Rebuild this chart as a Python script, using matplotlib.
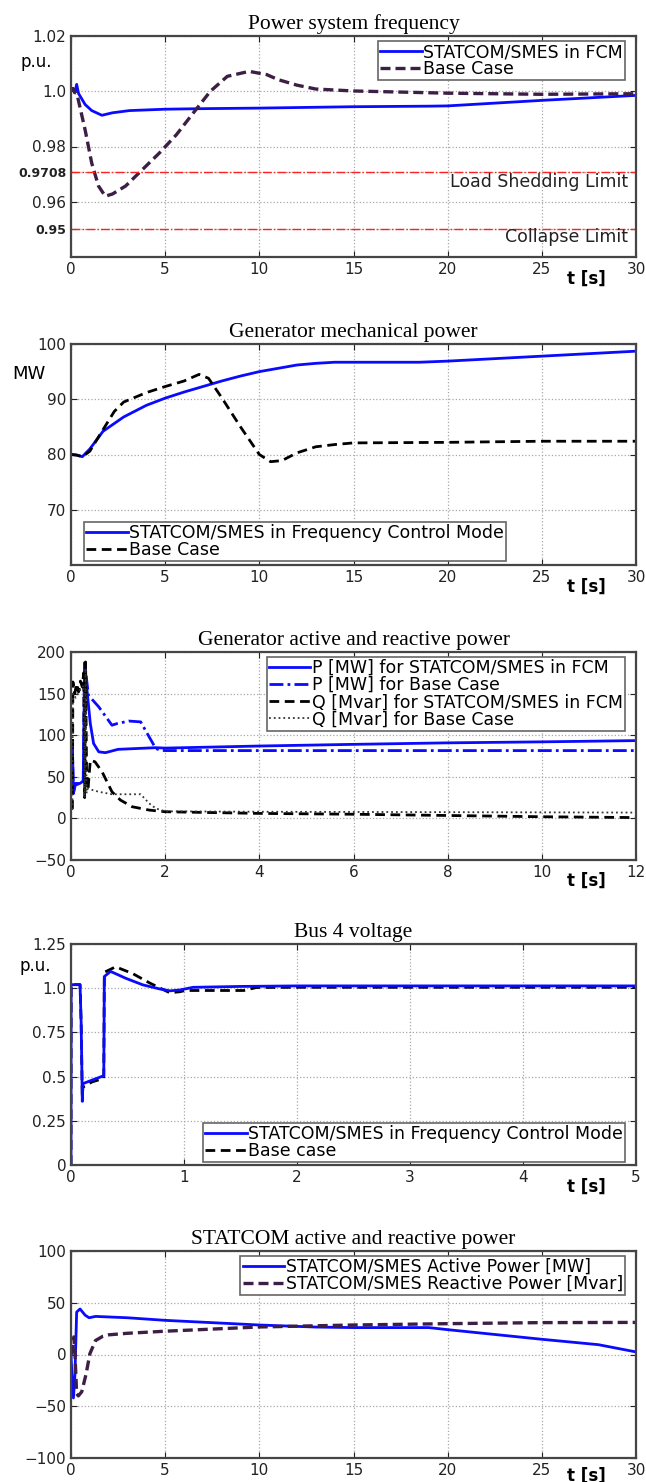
import numpy as np
import matplotlib
matplotlib.use("Agg")
import matplotlib.pyplot as plt

# --- Power system frequency ---
t_freq_fcm = [0, 0.1, 0.2, 0.3, 0.4, 0.75, 1.1, 1.64, 2.2, 3.1, 5, 7, 10, 15, 19, 20, 25, 30]
f_fcm = [1.0, 1.001, 0.9995, 1.0025, 0.9992, 0.9952, 0.993, 0.9913, 0.9922, 0.993, 0.9935, 0.9937,
         0.9939, 0.9944, 0.9946, 0.9947, 0.9967, 0.9985]
t_freq_base = [0, 0.1, 0.2, 0.3, 0.75, 1.1, 1.46, 1.82, 2.2, 2.9, 3.8, 4.7, 5.6, 6.5, 7.4, 8.3,
               9.46, 10.4, 11, 12, 13, 15, 20, 25, 30]
f_base = [1.0, 1.001, 0.9995, 0.9995, 0.986, 0.974, 0.9657, 0.962, 0.9628, 0.9657, 0.9717, 0.9777,
          0.9843, 0.9922, 1.0, 1.0054, 1.0072, 1.006, 1.0042, 1.0022, 1.0008, 1.0001, 0.9993,
          0.9989, 0.9991]
load_shed_limit = 0.9708
collapse_limit = 0.95

# --- Generator mechanical power ---
t_pm_fcm = [0, 0.3, 0.6, 1.0, 1.7, 2.8, 4, 5, 6, 7, 8, 9, 10, 11, 12, 13, 14, 15, 18.5, 20, 25, 30]
pm_fcm = [80, 79.9, 79.6, 81, 84.2, 86.8, 88.9, 90.2, 91.3, 92.3, 93.3, 94.2, 95.0, 95.6, 96.2,
          96.5, 96.7, 96.7, 96.7, 96.9, 97.8, 98.7]
t_pm_base = [0, 0.3, 0.6, 1.0, 1.7, 2.3, 2.8, 4, 5, 6, 6.8, 7.3, 8, 9, 10, 10.6, 11.2, 12, 13, 14,
             15, 20, 25, 30]
pm_base = [80, 79.9, 79.6, 80.6, 84.5, 87.8, 89.5, 91.2, 92.3, 93.3, 94.5, 93.8, 90.3, 85.0, 80.0,
           78.7, 78.9, 80.3, 81.4, 81.8, 82.1, 82.2, 82.4, 82.4]

# --- Generator active and reactive power ---
t_p_fcm = [0, 0.03, 0.05, 0.09, 0.19, 0.26, 0.29, 0.34, 0.41, 0.48, 0.59, 0.73, 1.0, 1.8, 2, 4, 6,
           8, 10, 12]
p_fcm = [85, 88, 30, 42, 42, 45, 187, 154, 114, 90, 80, 79, 83, 85, 84.5, 87, 89, 90.8, 92, 93.5]
t_p_base = [0, 0.03, 0.05, 0.09, 0.19, 0.26, 0.29, 0.37, 0.59, 0.87, 0.98, 1.23, 1.48, 1.66, 1.8,
            1.9, 2, 4, 8, 12]
p_base = [85, 88, 30, 40, 42, 45, 187, 148, 134, 112, 114, 117, 116, 98, 84, 82, 81.5, 81.5, 81.5,
          81.5]
t_q_fcm = [0, 0.03, 0.04, 0.08, 0.12, 0.16, 0.2, 0.24, 0.27, 0.29, 0.31, 0.33, 0.36, 0.41, 0.51,
           0.66, 0.87, 1.05, 1.3, 1.66, 2.0, 4, 6, 8, 10, 12]
q_fcm = [12, 12, 164, 150, 162, 152, 165, 158, 175, 25, 188, 60, 34, 70, 68, 56, 32, 22, 14, 10, 8,
         6, 5, 3.5, 2, 1]
t_q_base = [0, 0.03, 0.04, 0.1, 0.2, 0.27, 0.29, 0.31, 0.33, 0.34, 0.59, 0.87, 1.48, 1.66, 1.8, 2.0,
            4, 8, 12]
q_base = [12, 12, 150, 145, 155, 160, 25, 180, 30, 36, 32, 29, 29, 18, 12, 8.5, 8, 7.5, 7]

# --- Bus 4 voltage ---
t_v_fcm = [0, 0.001, 0.08, 0.09, 0.1, 0.105, 0.186, 0.29, 0.295, 0.35, 0.485, 0.635, 0.784, 0.874,
           0.964, 1.08, 1.5, 2, 3, 4, 5]
v_fcm = [0, 1.02, 1.02, 0.8, 0.36, 0.46, 0.48, 0.505, 1.066, 1.095, 1.056, 1.019, 0.996, 0.985,
         0.99, 1.005, 1.01, 1.013, 1.013, 1.013, 1.013]
t_v_base = [0, 0.001, 0.08, 0.09, 0.1, 0.105, 0.186, 0.29, 0.295, 0.395, 0.545, 0.695, 0.874, 0.964,
            1.01, 1.53, 1.64, 2, 3, 4, 5]
v_base = [0, 1.02, 1.02, 0.8, 0.38, 0.44, 0.47, 0.49, 1.09, 1.121, 1.083, 1.03, 0.974, 0.98, 0.987,
          0.987, 1.004, 1.005, 1.005, 1.005, 1.005]

# --- STATCOM active and reactive power ---
t_s_p = [0, 0.05, 0.13, 0.21, 0.3, 0.48, 0.75, 0.96, 1.3, 3, 5, 10, 13, 15, 19, 20, 25, 28, 30]
s_p = [0, -20, -42, -19, 41, 44, 38, 35.5, 36.8, 35.5, 33, 28.5, 26.5, 26, 26, 24, 14.7, 9.5, 2.5]
t_s_q = [0, 0.1, 0.15, 0.2, 0.3, 0.39, 0.57, 0.8, 1.0, 1.3, 1.7, 2, 3, 5, 10, 15, 20, 25, 30]
s_q = [0, 5, 17, 5, -38, -40, -36, -19, 0.6, 13.5, 17.7, 19, 20.5, 22.5, 26.6, 28.5, 29.8, 30.8, 31]

BLUE = "#0a0aff"
PURPLE = "#3d1f45"
W, H = 646, 1482
LEG_FS = 12.5

fig = plt.figure(figsize=(W / 100, H / 100), dpi=100)
plt.rcParams["font.family"] = "DejaVu Sans"


def make_axes(top, bottom):
    ax = fig.add_axes([71 / W, 1 - bottom / H, 565 / W, (bottom - top) / H])
    ax.grid(True, linestyle=":", color="#a8a8a8", linewidth=0.9)
    ax.tick_params(direction="in", top=True, right=True, length=4, labelsize=11, colors="#222222")
    for s in ax.spines.values():
        s.set_color("#454545")
        s.set_linewidth(1.6)
    return ax


def finish(ax, title, xlim, ty=-0.1):
    ax.set_xlim(*xlim)
    ax.set_title(title, family="Liberation Serif", fontsize=15.5, pad=5)
    ax.text(0.913, ty, "t [s]", transform=ax.transAxes, ha="center", va="center",
            fontsize=12, fontweight="bold")


def legend(ax, loc, anchor, handles=None, labels=None):
    if handles is None:
        handles, labels = ax.get_legend_handles_labels()
    lg = ax.legend(handles, labels, loc=loc, bbox_to_anchor=anchor, fancybox=False, framealpha=1,
                   edgecolor="#666666", fontsize=LEG_FS, handlelength=2.4, handletextpad=0.1,
                   borderpad=0.12, labelspacing=-0.05, borderaxespad=0)
    lg.get_frame().set_linewidth(1.2)


# Panel 1
ax1 = make_axes(36, 257)
ax1.plot(t_freq_fcm, f_fcm, color=BLUE, lw=2, label="STATCOM/SMES in FCM")
ax1.plot(t_freq_base, f_base, color=PURPLE, lw=2.4, ls=(0, (3, 1.5)), label="Base Case")
ax1.axhline(load_shed_limit, color="#ff2020", lw=1, ls="-.")
ax1.axhline(collapse_limit, color="#ff2020", lw=1, ls="-.")
ax1.text(29.6, 0.9673, "Load Shedding Limit", ha="right", va="center", fontsize=12.5, color="#222222")
ax1.text(29.6, 0.9473, "Collapse Limit", ha="right", va="center", fontsize=12.5, color="#222222")
ax1.set_ylim(0.94, 1.02)
ax1.set_yticks([0.95, load_shed_limit, 0.96, 0.98, 1.0, 1.02])
ax1.set_yticklabels(["0.95", "0.9708", "0.96", "0.98", "1.0", "1.02"])
for lab in ax1.get_yticklabels()[:2]:
    lab.set_fontsize(9)
    lab.set_fontweight("bold")
ax1.set_xticks([0, 5, 10, 15, 20, 25, 30])
ax1.text(-0.062, 0.882, "p.u.", transform=ax1.transAxes, ha="center", va="center", fontsize=12)
finish(ax1, "Power system frequency", (0, 30))
legend(ax1, "upper right", (0.981, 0.977))

# Panel 2
ax2 = make_axes(344, 565)
ax2.plot(t_pm_fcm, pm_fcm, color=BLUE, lw=2, label="STATCOM/SMES in Frequency Control Mode")
ax2.plot(t_pm_base, pm_base, color="black", lw=2, ls=(0, (3.5, 2)), label="Base Case")
ax2.set_ylim(60, 100)
ax2.set_yticks([70, 80, 90, 100])
ax2.set_xticks([0, 5, 10, 15, 20, 25, 30])
ax2.text(-0.074, 0.864, "MW", transform=ax2.transAxes, ha="center", va="center", fontsize=13)
finish(ax2, "Generator mechanical power", (0, 30))
legend(ax2, "lower left", (0.023, 0.018))

# Panel 3
ax3 = make_axes(652, 860)
ax3.plot(t_p_fcm, p_fcm, color=BLUE, lw=2, label="P [MW] for STATCOM/SMES in FCM")
ax3.plot(t_p_base, p_base, color=BLUE, lw=2, ls=(0, (5, 1.5, 1, 1.5)), label="P [MW] for Base Case")
ax3.plot(t_q_fcm, q_fcm, color="black", lw=2, ls=(0, (3.5, 2)), label="Q [Mvar] for STATCOM/SMES in FCM")
ax3.plot(t_q_base, q_base, color="#333333", lw=1.3, ls=":", label="Q [Mvar] for Base Case")
ax3.set_ylim(-50, 200)
ax3.set_yticks([-50, 0, 50, 100, 150, 200])
ax3.set_xticks([0, 2, 4, 6, 8, 10, 12])
finish(ax3, "Generator active and reactive power", (0, 12))
legend(ax3, "upper right", (0.981, 0.976))

# Panel 4
ax4 = make_axes(944, 1165)
ax4.plot(t_v_base, v_base, color="black", lw=2, ls=(0, (3.5, 2)), label="Base case")
ax4.plot(t_v_fcm, v_fcm, color=BLUE, lw=2, label="STATCOM/SMES in Frequency Control Mode")
ax4.set_ylim(0, 1.25)
ax4.set_yticks([0, 0.25, 0.5, 0.75, 1.0, 1.25])
ax4.set_yticklabels(["0", "0.25", "0.5", "0.75", "1.0", "1.25"])
ax4.set_xticks([0, 1, 2, 3, 4, 5])
ax4.text(-0.064, 0.9, "p.u.", transform=ax4.transAxes, ha="center", va="center", fontsize=12)
finish(ax4, "Bus 4 voltage", (0, 5))
h, l = ax4.get_legend_handles_labels()
legend(ax4, "lower right", (0.981, 0.014), h[::-1], l[::-1])

# Panel 5
ax5 = make_axes(1251, 1458)
ax5.plot(t_s_p, s_p, color=BLUE, lw=2, label="STATCOM/SMES Active Power [MW]")
ax5.plot(t_s_q, s_q, color=PURPLE, lw=2.4, ls=(0, (3, 1.5)), label="STATCOM/SMES Reactive Power [Mvar]")
ax5.set_ylim(-100, 100)
ax5.set_yticks([-100, -50, 0, 50, 100])
ax5.set_xticks([0, 5, 10, 15, 20, 25, 30])
finish(ax5, "STATCOM active and reactive power", (0, 30), ty=-0.085)
legend(ax5, "upper right", (0.981, 0.976))

fig.savefig("out.png", dpi=100)
